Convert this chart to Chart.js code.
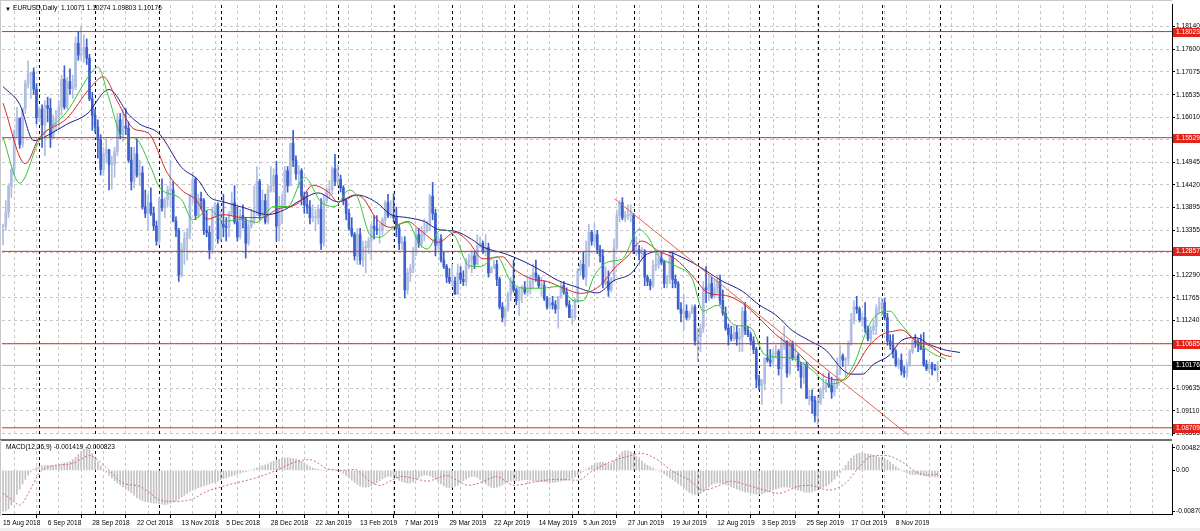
<!DOCTYPE html>
<html>
<head>
<meta charset="utf-8">
<title>EURUSD Daily</title>
<script src="https://cdn.jsdelivr.net/npm/chart.js@4.4.1/dist/chart.umd.min.js"></script>
<style>
  html, body { margin: 0; padding: 0; background: #fff; }
  #wrap { position: relative; width: 1200px; height: 531px; overflow: hidden; background: #fff; }
  #main { position: absolute; left: 0; top: 0; }
  #macd { position: absolute; left: 0; top: 440px; }
</style>
</head>
<body>
<div id="wrap">
  <canvas id="main" width="1200" height="440"></canvas>
  <canvas id="macd" width="1200" height="91"></canvas>
</div>
<script>
// daily bars, 15 Aug 2018 .. 29 Nov 2019 (one row per month)
const opens = [
  1.1343,1.1345,1.1377,1.1438,1.1478,1.1568,1.1599,1.1537,1.1622,1.1680,1.1703,1.1706,1.1667,
  1.1600,1.1620,1.1583,1.1628,1.1622,1.1553,1.1595,1.1600,1.1625,1.1690,1.1625,1.1685,1.1668,1.1673,1.1775,1.1747,1.1750,1.1765,1.1740,1.1644,
  1.1605,1.1578,1.1548,1.1478,1.1515,1.1525,1.1490,1.1490,1.1520,1.1595,1.1560,1.1580,1.1575,1.1500,1.1450,1.1515,1.1465,1.1470,1.1390,1.1375,1.1400,1.1375,1.1345,
  1.1310,1.1408,1.1388,1.1407,1.1430,1.1430,1.1357,1.1335,1.1230,1.1290,1.1315,1.1330,1.1415,1.1455,1.1370,1.1410,1.1405,1.1335,1.1330,1.1290,1.1370,1.1395,
  1.1315,1.1350,1.1343,1.1342,1.1375,1.1400,1.1355,1.1320,1.1370,1.1360,1.1305,1.1345,1.1360,1.1380,1.1450,1.1370,1.1405,1.1355,1.1430,1.1440,
  1.1465,1.1345,1.1390,1.1395,1.1475,1.1440,1.1540,1.1500,1.1468,1.1475,1.1415,1.1395,1.1390,1.1365,1.1365,1.1365,1.1385,1.1305,1.1405,1.1430,1.1430,1.1480,
  1.1450,1.1455,1.1435,1.1405,1.1375,1.1340,1.1325,1.1275,1.1325,1.1265,1.1295,1.1295,1.1310,1.1345,1.1340,1.1335,1.1335,1.1360,1.1400,1.1370,
  1.1370,1.1365,1.1340,1.1305,1.1308,1.1195,1.1235,1.1245,1.1285,1.1325,1.1305,1.1325,1.1335,1.1350,1.1415,1.1375,1.1300,1.1315,1.1265,1.1250,1.1225,
  1.1215,1.1215,1.1185,1.1235,1.1220,1.1215,1.1260,1.1265,1.1275,1.1255,1.1300,1.1305,1.1285,1.1295,1.1235,1.1245,1.1255,1.1220,1.1155,1.1130,1.1150,1.1185,
  1.1215,1.1195,1.1170,1.1200,1.1200,1.1190,1.1195,1.1215,1.1235,1.1225,1.1205,1.1205,1.1175,1.1155,1.1165,1.1160,1.1150,1.1180,1.1205,1.1190,1.1160,1.1130,1.1130,
  1.1170,1.1240,1.1255,1.1225,1.1275,1.1330,1.1310,1.1325,1.1290,1.1275,1.1210,1.1215,1.1195,1.1220,1.1295,1.1370,1.1400,1.1365,1.1370,1.1370,
  1.1370,1.1285,1.1290,1.1280,1.1285,1.1225,1.1215,1.1205,1.1250,1.1255,1.1270,1.1260,1.1210,1.1225,1.1275,1.1220,1.1210,1.1150,1.1140,1.1145,1.1130,1.1140,1.1155,
  1.1075,1.1085,1.1105,1.1200,1.1195,1.1210,1.1180,1.1200,1.1215,1.1170,1.1140,1.1105,1.1090,1.1080,1.1095,1.1080,1.1085,1.1145,1.1100,1.1090,1.1075,1.1055,
  1.0985,1.0970,1.0975,1.1035,1.1030,1.1025,1.1045,1.1050,1.1010,1.1065,1.1075,1.1000,1.1070,1.1035,1.1040,1.1015,1.0990,1.1020,1.0940,1.0945,1.0935,
  1.0900,1.0930,1.0960,1.0965,1.0975,1.0970,1.0955,1.0970,1.1005,1.1040,1.1030,1.1035,1.1070,1.1125,1.1155,1.1150,1.1125,1.1130,1.1105,1.1080,1.1100,1.1110,1.1150,
  1.1155,1.1165,1.1130,1.1075,1.1065,1.1050,1.1020,1.1030,1.1005,1.1000,1.1020,1.1050,1.1075,1.1070,1.1065,1.1055,1.1020,1.1010,1.1020,1.1010,1.10071
];
const highs = [
  1.1350,1.1405,1.1445,1.1480,1.1572,1.1624,1.1599,1.1623,1.1688,1.1733,1.1708,1.1717,1.1680,
  1.1625,1.1630,1.1640,1.1648,1.1645,1.1606,1.1617,1.1640,1.1700,1.1722,1.1695,1.1715,1.1700,1.1790,1.1803,1.1815,1.1795,1.1785,1.1749,1.1660,
  1.1620,1.1595,1.1560,1.1530,1.1550,1.1525,1.1510,1.1530,1.1610,1.1610,1.1620,1.1621,1.1590,1.1530,1.1530,1.1550,1.1500,1.1485,1.1430,1.1420,1.1435,1.1390,1.1357,
  1.1412,1.1456,1.1412,1.1440,1.1500,1.1450,1.1367,1.1340,1.1305,1.1330,1.1340,1.1420,1.1472,1.1460,1.1420,1.1425,1.1410,1.1382,1.1345,1.1390,1.1401,1.1400,
  1.1380,1.1420,1.1365,1.1380,1.1425,1.1440,1.1390,1.1385,1.1395,1.1365,1.1355,1.1385,1.1440,1.1485,1.1455,1.1430,1.1420,1.1440,1.1485,1.1480,
  1.1497,1.1415,1.1420,1.1485,1.1485,1.1540,1.1570,1.1510,1.1487,1.1480,1.1425,1.1425,1.1405,1.1395,1.1385,1.1395,1.1410,1.1420,1.1435,1.1452,1.1485,1.1514,
  1.1489,1.1465,1.1440,1.1410,1.1385,1.1365,1.1330,1.1340,1.1340,1.1310,1.1310,1.1318,1.1350,1.1370,1.1370,1.1350,1.1365,1.1405,1.1420,1.1405,
  1.1420,1.1390,1.1350,1.1320,1.1320,1.1245,1.1255,1.1295,1.1340,1.1340,1.1345,1.1362,1.1357,1.1420,1.1448,1.1385,1.1325,1.1325,1.1285,1.1255,1.1245,
  1.1255,1.1225,1.1255,1.1250,1.1240,1.1270,1.1280,1.1288,1.1285,1.1325,1.1320,1.1310,1.1325,1.1305,1.1250,1.1265,1.1265,1.1225,1.1165,1.1155,1.1190,1.1225,
  1.1265,1.1200,1.1200,1.1205,1.1215,1.1225,1.1230,1.1255,1.1265,1.1230,1.1225,1.1215,1.1180,1.1175,1.1180,1.1170,1.1180,1.1215,1.1215,1.1200,1.1170,1.1150,1.1175,
  1.1245,1.1265,1.1285,1.1310,1.1350,1.1335,1.1350,1.1335,1.1300,1.1290,1.1250,1.1240,1.1225,1.1315,1.1380,1.1405,1.1412,1.1380,1.1395,1.1395,
  1.1375,1.1320,1.1300,1.1295,1.1290,1.1230,1.1220,1.1265,1.1285,1.1285,1.1285,1.1265,1.1230,1.1282,1.1285,1.1230,1.1215,1.1165,1.1185,1.1160,1.1145,1.1160,1.1160,
  1.1105,1.1115,1.1215,1.1250,1.1230,1.1225,1.1220,1.1230,1.1230,1.1195,1.1155,1.1115,1.1110,1.1110,1.1110,1.1105,1.1155,1.1165,1.1110,1.1095,1.1085,1.1060,
  1.0995,1.0985,1.1035,1.1085,1.1055,1.1055,1.1065,1.1055,1.1085,1.1110,1.1075,1.1075,1.1075,1.1065,1.1045,1.1025,1.1025,1.1025,1.0960,1.0960,1.0945,
  1.0945,1.0965,1.0999,1.0985,1.1000,1.0990,1.0985,1.1035,1.1065,1.1045,1.1035,1.1075,1.1140,1.1170,1.1180,1.1155,1.1140,1.1165,1.1110,1.1110,1.1125,1.1160,1.1175,
  1.1176,1.1175,1.1140,1.1090,1.1090,1.1055,1.1035,1.1045,1.1015,1.1025,1.1055,1.1080,1.1090,1.1080,1.1090,1.1095,1.1030,1.1025,1.1025,1.1020,1.10274
];
const lows = [
  1.1301,1.1335,1.1365,1.1412,1.1465,1.1555,1.1528,1.1530,1.1610,1.1670,1.1645,1.1655,1.1585,
  1.1590,1.1530,1.1510,1.1590,1.1530,1.1550,1.1570,1.1573,1.1605,1.1620,1.1620,1.1655,1.1645,1.1665,1.1735,1.1735,1.1730,1.1725,1.1640,1.1570,
  1.1565,1.1505,1.1465,1.1465,1.1495,1.1430,1.1432,1.1460,1.1510,1.1550,1.1545,1.1560,1.1495,1.1430,1.1435,1.1460,1.1440,1.1385,1.1365,1.1335,1.1370,1.1335,1.1300,
  1.1302,1.1380,1.1365,1.1390,1.1390,1.1355,1.1320,1.1215,1.1225,1.1255,1.1265,1.1315,1.1400,1.1360,1.1365,1.1385,1.1325,1.1320,1.1268,1.1280,1.1365,1.1305,
  1.1310,1.1320,1.1310,1.1320,1.1370,1.1350,1.1310,1.1315,1.1340,1.1270,1.1300,1.1340,1.1350,1.1370,1.1360,1.1365,1.1350,1.1350,1.1425,1.1425,
  1.1310,1.1310,1.1350,1.1390,1.1425,1.1440,1.1485,1.1455,1.1435,1.1395,1.1375,1.1375,1.1350,1.1355,1.1335,1.1350,1.1290,1.1298,1.1400,1.1410,1.1420,1.1440,
  1.1440,1.1425,1.1395,1.1360,1.1335,1.1320,1.1265,1.1255,1.1255,1.1250,1.1235,1.1280,1.1265,1.1315,1.1325,1.1305,1.1325,1.1345,1.1365,1.1365,
  1.1355,1.1320,1.1290,1.1290,1.1176,1.1185,1.1215,1.1235,1.1275,1.1295,1.1295,1.1310,1.1330,1.1335,1.1360,1.1275,1.1290,1.1260,1.1245,1.1212,1.1210,
  1.1205,1.1185,1.1185,1.1210,1.1205,1.1205,1.1245,1.1235,1.1245,1.1255,1.1295,1.1280,1.1275,1.1225,1.1235,1.1245,1.1205,1.1150,1.1120,1.1110,1.1145,1.1170,
  1.1190,1.1160,1.1135,1.1165,1.1185,1.1180,1.1185,1.1200,1.1215,1.1200,1.1180,1.1170,1.1150,1.1150,1.1150,1.1140,1.1105,1.1175,1.1185,1.1155,1.1130,1.1115,1.1125,
  1.1165,1.1230,1.1220,1.1205,1.1250,1.1300,1.1300,1.1280,1.1260,1.1200,1.1205,1.1180,1.1190,1.1215,1.1290,1.1355,1.1360,1.1355,1.1360,1.1355,
  1.1280,1.1275,1.1265,1.1270,1.1205,1.1205,1.1195,1.1200,1.1240,1.1245,1.1255,1.1200,1.1200,1.1210,1.1200,1.1200,1.1150,1.1120,1.1100,1.1125,1.1125,1.1140,1.1065,
  1.1027,1.1050,1.1095,1.1165,1.1170,1.1175,1.1175,1.1185,1.1160,1.1135,1.1100,1.1065,1.1075,1.1075,1.1065,1.1050,1.1050,1.1090,1.1085,1.1065,1.1045,1.0965,
  1.0960,1.0926,1.0960,1.1025,1.1015,1.1020,1.1035,1.0995,1.0927,1.1055,1.0990,1.0995,1.1030,1.1030,1.1005,1.0965,1.0975,1.0940,1.0925,1.0905,1.0885,
  1.0879,1.0925,1.0940,1.0955,1.0965,1.0940,1.0945,1.0965,1.0995,1.1015,1.0990,1.1020,1.1065,1.1115,1.1140,1.1120,1.1110,1.1095,1.1075,1.1070,1.1090,1.1090,1.1140,
  1.1135,1.1125,1.1065,1.1055,1.1035,1.1015,1.1010,1.0995,1.0990,1.0990,1.1015,1.1045,1.1060,1.1050,1.1055,1.1015,1.1005,1.1000,1.0995,1.1005,1.09803
];
const closes = [
  1.1345,1.1377,1.1438,1.1478,1.1568,1.1599,1.1537,1.1622,1.1680,1.1703,1.1706,1.1667,1.1600,
  1.1620,1.1583,1.1628,1.1622,1.1553,1.1595,1.1600,1.1625,1.1690,1.1625,1.1685,1.1668,1.1673,1.1775,1.1747,1.1750,1.1765,1.1740,1.1644,1.1605,
  1.1578,1.1548,1.1478,1.1515,1.1525,1.1490,1.1490,1.1520,1.1595,1.1560,1.1580,1.1575,1.1500,1.1450,1.1515,1.1465,1.1470,1.1390,1.1375,1.1400,1.1375,1.1345,1.1310,
  1.1408,1.1388,1.1407,1.1430,1.1430,1.1357,1.1335,1.1230,1.1290,1.1315,1.1330,1.1415,1.1455,1.1370,1.1410,1.1405,1.1335,1.1330,1.1290,1.1370,1.1395,1.1315,
  1.1350,1.1343,1.1342,1.1375,1.1400,1.1355,1.1320,1.1370,1.1360,1.1305,1.1345,1.1360,1.1380,1.1450,1.1370,1.1405,1.1355,1.1430,1.1440,1.1465,
  1.1345,1.1390,1.1395,1.1475,1.1440,1.1540,1.1500,1.1468,1.1475,1.1415,1.1395,1.1390,1.1365,1.1365,1.1365,1.1385,1.1305,1.1405,1.1430,1.1430,1.1480,1.1450,
  1.1455,1.1435,1.1405,1.1375,1.1340,1.1325,1.1275,1.1325,1.1265,1.1295,1.1295,1.1310,1.1345,1.1340,1.1335,1.1335,1.1360,1.1400,1.1370,1.1370,
  1.1365,1.1340,1.1305,1.1308,1.1195,1.1235,1.1245,1.1285,1.1325,1.1305,1.1325,1.1335,1.1350,1.1415,1.1375,1.1300,1.1315,1.1265,1.1250,1.1225,1.1215,
  1.1215,1.1185,1.1235,1.1220,1.1215,1.1260,1.1265,1.1275,1.1255,1.1300,1.1305,1.1285,1.1295,1.1235,1.1245,1.1255,1.1220,1.1155,1.1130,1.1150,1.1185,1.1215,
  1.1195,1.1170,1.1200,1.1200,1.1190,1.1195,1.1215,1.1235,1.1225,1.1205,1.1205,1.1175,1.1155,1.1165,1.1160,1.1150,1.1180,1.1205,1.1190,1.1160,1.1130,1.1130,1.1170,
  1.1240,1.1255,1.1225,1.1275,1.1330,1.1310,1.1325,1.1290,1.1275,1.1210,1.1215,1.1195,1.1220,1.1295,1.1370,1.1400,1.1365,1.1370,1.1370,1.1370,
  1.1285,1.1290,1.1280,1.1285,1.1225,1.1215,1.1205,1.1250,1.1255,1.1270,1.1260,1.1210,1.1225,1.1275,1.1220,1.1210,1.1150,1.1140,1.1145,1.1130,1.1140,1.1155,1.1075,
  1.1085,1.1105,1.1200,1.1195,1.1210,1.1180,1.1200,1.1215,1.1170,1.1140,1.1105,1.1090,1.1080,1.1095,1.1080,1.1085,1.1145,1.1100,1.1090,1.1075,1.1055,1.0985,
  1.0970,1.0975,1.1035,1.1030,1.1025,1.1045,1.1050,1.1010,1.1065,1.1075,1.1000,1.1070,1.1035,1.1040,1.1015,1.0990,1.1020,1.0940,1.0945,1.0935,1.0900,
  1.0930,1.0960,1.0965,1.0975,1.0970,1.0955,1.0970,1.1005,1.1040,1.1030,1.1035,1.1070,1.1125,1.1155,1.1150,1.1125,1.1130,1.1105,1.1080,1.1100,1.1110,1.1150,1.1155,
  1.1165,1.1130,1.1075,1.1065,1.1050,1.1020,1.1030,1.1005,1.1000,1.1020,1.1050,1.1075,1.1070,1.1065,1.1055,1.1020,1.1010,1.1020,1.1010,1.1007,1.10176
];

// Alligator lines: [bar index, price]
const jawPts = [[0,1.1673],[6,1.1631],[11,1.1546],[17,1.1562],[23,1.1585],[30,1.1608],[38,1.1666],[45,1.1608],[49,1.1585],[56,1.1562],[64,1.1483],[70,1.1453],[74,1.1414],[79,1.1402],[86,1.1389],[95,1.1372],[101,1.1384],[107,1.1407],[113,1.1423],[120,1.1402],[127,1.1418],[134,1.1400],[139,1.1372],[145,1.1365],[151,1.1356],[156,1.1337],[162,1.1333],[168,1.1314],[172,1.1296],[180,1.1280],[187,1.1261],[193,1.1240],[199,1.1217],[205,1.1203],[213,1.1188],[219,1.1217],[225,1.1233],[231,1.1280],[237,1.1286],[243,1.1273],[249,1.1252],[258,1.1215],[265,1.1192],[271,1.1160],[277,1.1136],[283,1.1099],[289,1.1076],[295,1.1053],[301,1.1007],[304,1.0997],[308,1.0997],[312,1.1020],[318,1.1043],[322,1.1076],[327,1.1083],[332,1.1067],[337,1.1055],[343,1.1048]];
const teethPts = [[0,1.1634],[8,1.1492],[13,1.1553],[23,1.1599],[31,1.1668],[36,1.1696],[41,1.1638],[47,1.1573],[52,1.1564],[59,1.1469],[64,1.1430],[70,1.1400],[73,1.1361],[79,1.1372],[86,1.1365],[93,1.1365],[98,1.1384],[106,1.1400],[111,1.1441],[117,1.1423],[120,1.1402],[126,1.1418],[129,1.1411],[134,1.1361],[139,1.1342],[145,1.1356],[150,1.1333],[156,1.1307],[162,1.1330],[167,1.1307],[172,1.1268],[179,1.1273],[183,1.1245],[189,1.1222],[195,1.1215],[201,1.1199],[207,1.1187],[214,1.1205],[219,1.1245],[224,1.1275],[229,1.1310],[235,1.1286],[241,1.1268],[247,1.1229],[253,1.1187],[259,1.1182],[265,1.1164],[271,1.1129],[277,1.1090],[283,1.1060],[289,1.1020],[295,1.0990],[301,1.0983],[305,1.1007],[310,1.1060],[315,1.1090],[320,1.1099],[322,1.1101],[327,1.1076],[332,1.1064],[337,1.1043],[340,1.1038]];
const lipsPts = [[0,1.1553],[6,1.1446],[13,1.1546],[23,1.1615],[31,1.1700],[34,1.1719],[38,1.1645],[43,1.1553],[47,1.1553],[53,1.1483],[56,1.1437],[64,1.1407],[68,1.1360],[74,1.1384],[79,1.1356],[85,1.1361],[91,1.1354],[97,1.1391],[102,1.1391],[108,1.1460],[114,1.1402],[119,1.1391],[124,1.1430],[127,1.1414],[132,1.1321],[135,1.1319],[140,1.1342],[145,1.1354],[149,1.1307],[152,1.1291],[157,1.1337],[162,1.1321],[167,1.1252],[171,1.1250],[177,1.1273],[182,1.1215],[187,1.1199],[193,1.1199],[199,1.1203],[205,1.1169],[208,1.1170],[212,1.1229],[217,1.1261],[222,1.1268],[228,1.1337],[231,1.1321],[235,1.1275],[241,1.1252],[247,1.1222],[251,1.1145],[256,1.1159],[262,1.1113],[268,1.1106],[273,1.1043],[278,1.1037],[284,1.1032],[290,1.1007],[296,1.0974],[301,1.0983],[305,1.1020],[309,1.1090],[312,1.1129],[318,1.1145],[321,1.1122],[326,1.1083],[330,1.1060],[334,1.1043],[338,1.1032]];

// MACD(12,26,9) main values per bar, in units of 1e-4
const macdMain = [
  -87,-86,-82,-74,-63,-51,-40,-29,-19,-10, -3,3,7,9,10,11,11,10,10,11,
  12,14,16,17,19,23,28,34,40,45, 48,44,36,27,18,10,3,-4,-10,-16,
  -22,-27,-31,-35,-39,-43,-48,-53,-58,-62, -65,-67,-68,-69,-70,-70,-71,-72,-73,-72,
  -70,-68,-65,-61,-57,-53,-49,-45,-42,-40, -37,-35,-33,-31,-29,-27,-25,-23,-20,-18,
  -16,-14,-12,-10,-8,-6,-4,-3,-1,1, 3,5,8,10,12,14,17,20,22,24,
  26,27,27,26,25,24,22,19,16,12, 8,5,3,2,1,0,1,2,2,1,
  0,-2,-6,-11,-16,-21,-26,-30,-33,-35, -36,-35,-33,-30,-26,-22,-18,-15,-13,-13,
  -14,-17,-21,-24,-26,-27,-27,-25,-21,-16, -12,-10,-10,-12,-15,-19,-24,-29,-33,-36,
  -37,-36,-34,-31,-27,-22,-18,-15,-13,-13, -15,-19,-24,-29,-33,-36,-37,-36,-34,-31,
  -28,-25,-23,-22,-22,-22,-21,-20,-20,-21, -22,-23,-24,-24,-25,-25,-26,-26,-25,-24,
  -23,-22,-21,-19,-17,-14,-10,-6,-2,2, 6,10,14,16,17,17,15,14,15,20,
  27,34,40,42,42,40,36,30,25,20, 15,11,8,5,2,-1,-4,-8,-12,-16,
  -20,-24,-28,-32,-37,-42,-47,-50,-52,-52, -50,-46,-40,-35,-31,-28,-27,-27,-28,-30,
  -32,-35,-37,-40,-42,-44,-46,-47,-48,-50, -51,-51,-50,-48,-46,-44,-42,-40,-38,-36,
  -35,-35,-36,-38,-40,-42,-44,-46,-47,-47, -46,-44,-42,-39,-36,-33,-30,-25,-19,-12,
  -5,3,11,19,26,31,35,37,37,36, 35,34,32,30,28,27,25,22,18,13,
  8,4,0,-3,-6,-8,-9,-9,-9,-10, -11,-12,-13,-13,-14,-14.19
];
// MACD signal line: [bar index, value * 1e4]
const signalPts = [[0,-49],[3,-62],[6,-74],[9,-50],[13,-6],[17,9],[21,12],[25,15],[28,24],[31,32],[34,22],[38,0],[43,-27],[49,-34],[53,-50],[56,-63],[61,-66],[67,-63],[73,-45],[80,-32],[90,-17],[98,0],[103,14],[107,21],[110,23],[116,4],[121,0],[126,2],[131,-21],[135,-32],[139,-22],[143,-13],[148,-18],[152,-23],[159,-11],[163,-22],[167,-32],[172,-24],[177,-13],[180,-22],[183,-32],[192,-23],[199,-19],[206,-21],[211,-2],[218,19],[224,30],[229,36],[235,21],[240,-2],[246,-21],[251,-42],[256,-34],[261,-23],[267,-32],[273,-42],[278,-49],[285,-34],[289,-32],[296,-42],[302,-27],[307,8],[311,30],[316,32],[322,19],[327,-2],[331,-10],[335,-8.23]];

const dateLabels = ['15 Aug 2018','6 Sep 2018','28 Sep 2018','22 Oct 2018','13 Nov 2018','5 Dec 2018','28 Dec 2018','22 Jan 2019','13 Feb 2019','7 Mar 2019','29 Mar 2019','22 Apr 2019','14 May 2019','5 Jun 2019','27 Jun 2019','19 Jul 2019','12 Aug 2019','3 Sep 2019','25 Sep 2019','17 Oct 2019','8 Nov 2019'];
const monthStarts = [13,33,56,78,98,120,140,161,183,206,226,249,271,292,315,336];
const priceTicks = [1.18140,1.17600,1.17075,1.16535,1.16010,1.15485,1.14945,1.14420,1.13895,1.13355,1.12830,1.12290,1.11765,1.11240,1.10700,1.10175,1.09635,1.09110,1.08585];
const levels = [1.18023, 1.15529, 1.12857, 1.10685, 1.08709];
const trendPts = [[219.2, 1.14091], [326, 1.08460]];
const macdTicks = [0.004822, 0, -0.008707];
const macdTickText = ['0.004822', '0.00', '-0.008707'];

const FONT = '"Liberation Sans", Arial, sans-serif';
const FS = 6.6;
const BULL = '#aebde0';
const BEAR = '#3c5fcc';
const GRID = '#c6c6c6';
const X_MIN = -0.36, X_MAX = 419;
const last = closes.length - 1;

const gridTicks = [];
for (let i = 0; i <= 416; i += 8) gridTicks.push(i);

const toXY = pts => pts.map(([x, y]) => ({x, y}));
const barColor = ctx => closes[ctx.dataIndex] >= opens[ctx.dataIndex] ? BULL : BEAR;

function monthLines(chart) {
  const {ctx, chartArea: a, scales: {x}} = chart;
  ctx.save();
  ctx.strokeStyle = '#000';
  ctx.lineWidth = 1;
  ctx.setLineDash([3, 3]);
  monthStarts.forEach(i => {
    const px = Math.round(x.getPixelForValue(i)) + 0.5;
    ctx.beginPath();
    ctx.moveTo(px, a.top);
    ctx.lineTo(px, a.bottom);
    ctx.stroke();
  });
  ctx.restore();
}

const mainDecor = {
  id: 'mainDecor',
  beforeDatasetsDraw: monthLines,
  afterDraw(chart) {
    const {ctx, scales: {y}} = chart;
    ctx.save();
    // frame + panel separator
    ctx.fillStyle = '#c8c8c8';
    ctx.fillRect(0, 0, 1172, 1);
    ctx.fillRect(0, 0, 1, 440);
    ctx.fillStyle = '#6e6e6e';
    ctx.fillRect(0, 439, 1172, 1);
    // price tags on the right axis
    ctx.font = FS + 'px ' + FONT;
    ctx.textBaseline = 'middle';
    const tag = (v, bg) => {
      const py = Math.round(y.getPixelForValue(v));
      ctx.fillStyle = bg;
      ctx.fillRect(1173, py - 4, 27, 9);
      ctx.fillStyle = '#fff';
      ctx.fillText(v.toFixed(5), 1176, py + 0.5);
    };
    levels.forEach(v => tag(v, '#e2231a'));
    tag(closes[last], '#000');
    // header
    ctx.fillStyle = '#000';
    ctx.font = '6px ' + FONT;
    ctx.fillText('\u25BC', 5, 9);
    ctx.font = FS + 'px ' + FONT;
    ctx.fillText('EURUSD,Daily  ' + [opens[last], highs[last], lows[last], closes[last]].map(v => v.toFixed(5)).join(' '), 13, 8.5);
    ctx.restore();
  }
};

const lineDs = (data, color, order, extra) => Object.assign({
  type: 'line', data, borderColor: color, borderWidth: 1, pointRadius: 0,
  fill: false, order
}, extra || {});

new Chart(document.getElementById('main'), {
  type: 'bar',
  data: {
    datasets: [
      lineDs(toXY(trendPts), '#e4644e', 0),
      ...levels.map(v => lineDs([{x: X_MIN, y: v}, {x: X_MAX, y: v}], '#dd2a24', 1)),
      lineDs(toXY(lipsPts), '#33c233', 2, {cubicInterpolationMode: 'monotone'}),
      lineDs(toXY(teethPts), '#d02828', 3, {cubicInterpolationMode: 'monotone'}),
      lineDs(toXY(jawPts), '#1d1d8e', 4, {cubicInterpolationMode: 'monotone'}),
      {
        type: 'bar', order: 5, grouped: false, barThickness: 2, minBarLength: 1,
        data: closes.map((c, i) => ({x: i, y: [opens[i], c]})),
        backgroundColor: barColor, borderWidth: 0
      },
      {
        type: 'bar', order: 6, grouped: false, barThickness: 1,
        data: closes.map((c, i) => ({x: i, y: [lows[i], highs[i]]})),
        backgroundColor: barColor, borderWidth: 0
      },
      lineDs([{x: X_MIN, y: closes[last]}, {x: X_MAX, y: closes[last]}], '#b2b2b2', 7)
    ]
  },
  options: {
    responsive: false,
    animation: false,
    events: [],
    layout: {padding: {left: 2, top: 2, right: 0, bottom: 1}},
    plugins: {legend: {display: false}, tooltip: {enabled: false}},
    scales: {
      x: {
        type: 'linear', min: X_MIN, max: X_MAX, offset: false,
        afterBuildTicks: s => { s.ticks = gridTicks.map(v => ({value: v})); },
        afterFit: s => { s.height = 0; },
        ticks: {display: false},
        grid: {color: GRID, drawTicks: false},
        border: {display: false, dash: [3, 3]}
      },
      y: {
        position: 'right', min: 1.08539, max: 1.18649,
        afterBuildTicks: s => { s.ticks = priceTicks.map(v => ({value: v})); },
        afterFit: s => { s.width = 28; },
        ticks: {autoSkip: false, padding: 1, color: '#000', font: {family: FONT, size: FS}, callback: v => v.toFixed(5)},
        grid: {color: GRID, tickColor: '#000', tickLength: 3},
        border: {display: true, color: '#000', dash: [3, 3]}
      }
    }
  },
  plugins: [mainDecor]
});

const macdDecor = {
  id: 'macdDecor',
  beforeDatasetsDraw: monthLines,
  afterDraw(chart) {
    const {ctx} = chart;
    ctx.save();
    ctx.fillStyle = '#6e6e6e';
    ctx.fillRect(0, 0, 1172, 1);
    ctx.fillStyle = '#c8c8c8';
    ctx.fillRect(0, 0, 1, 76);
    ctx.fillStyle = '#efefef';
    ctx.fillRect(0, 88, 1200, 3);
    ctx.fillStyle = '#000';
    ctx.font = FS + 'px ' + FONT;
    ctx.textBaseline = 'middle';
    const sig = signalPts[signalPts.length - 1][1];
    ctx.fillText('MACD(12,26,9) ' + (macdMain[last] / 1e4).toFixed(6) + ' ' + (sig / 1e4).toFixed(6), 6, 7);
    ctx.restore();
  }
};

new Chart(document.getElementById('macd'), {
  type: 'bar',
  data: {
    datasets: [
      lineDs(signalPts.map(([x, v]) => ({x, y: v / 1e4})), '#d66a6a', 0, {borderDash: [2, 2], cubicInterpolationMode: 'monotone'}),
      {
        type: 'bar', order: 1, barThickness: 1,
        data: macdMain.map((v, i) => ({x: i, y: v / 1e4})),
        backgroundColor: '#c2c2c2', borderWidth: 0
      }
    ]
  },
  options: {
    responsive: false,
    animation: false,
    events: [],
    layout: {padding: {left: 2, top: 1, right: 0, bottom: 0}},
    plugins: {legend: {display: false}, tooltip: {enabled: false}},
    scales: {
      x: {
        type: 'linear', min: X_MIN, max: X_MAX, offset: false,
        afterBuildTicks: s => { s.ticks = gridTicks.map(v => ({value: v})); },
        afterFit: s => { s.height = 16; },
        ticks: {
          autoSkip: false, maxRotation: 0, align: 'start', padding: 1, color: '#000',
          font: {family: FONT, size: FS},
          callback: v => (v % 16 === 0 && v / 16 < dateLabels.length) ? dateLabels[v / 16] : ''
        },
        grid: {
          color: GRID, tickLength: 3,
          tickColor: c => (c.tick && c.tick.value % 16 === 0 && c.tick.value / 16 < dateLabels.length) ? '#000' : 'rgba(0,0,0,0)'
        },
        border: {display: true, color: '#000', dash: [3, 3]}
      },
      y: {
        position: 'right', min: -0.009515, max: 0.005428,
        afterBuildTicks: s => { s.ticks = macdTicks.map(v => ({value: v})); },
        afterFit: s => { s.width = 28; },
        ticks: {autoSkip: false, padding: 1, color: '#000', font: {family: FONT, size: FS}, callback: (v, i) => macdTickText[i]},
        grid: {drawOnChartArea: false, tickColor: '#000', tickLength: 3},
        border: {display: true, color: '#000'}
      }
    }
  },
  plugins: [macdDecor]
});
</script>
</body>
</html>
